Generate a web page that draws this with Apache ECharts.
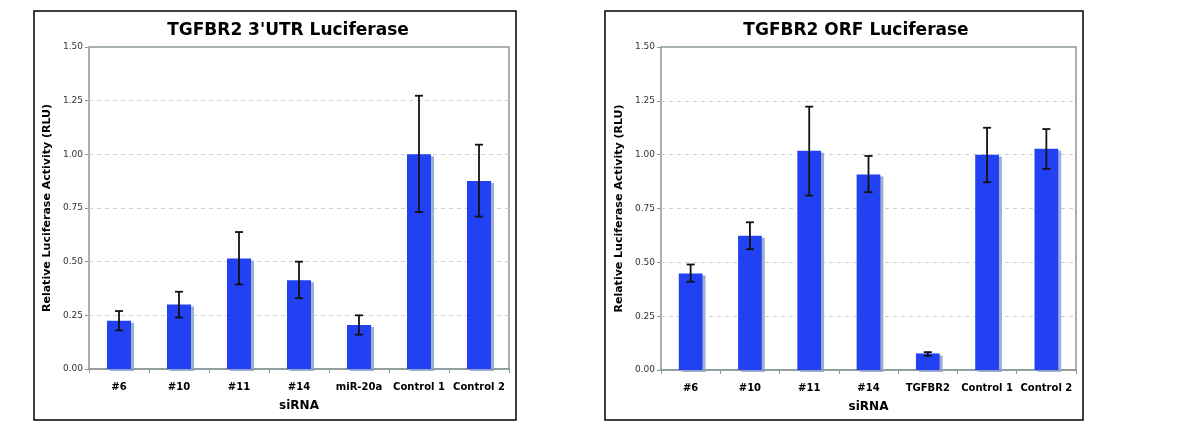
<!DOCTYPE html>
<html><head><meta charset="utf-8">
<script src="https://cdn.jsdelivr.net/npm/echarts@6/dist/echarts.min.js"></script>
<style>html,body{margin:0;padding:0;background:#fff}#c{width:1200px;height:432px}</style>
</head><body><div id="c"></div>
<script>
const titleL = "TGFBR2 3'UTR Luciferase";
const titleR = "TGFBR2 ORF Luciferase";
const catsL = ['#6', '#10', '#11', '#14', 'miR-20a', 'Control 1', 'Control 2'];
const catsR = ['#6', '#10', '#11', '#14', 'TGFBR2', 'Control 1', 'Control 2'];
const valsL = [0.225, 0.30, 0.515, 0.413, 0.205, 1.00, 0.876];
const errHiL = [0.27, 0.36, 0.638, 0.50, 0.25, 1.273, 1.045];
const errLoL = [0.18, 0.24, 0.394, 0.33, 0.16, 0.731, 0.71];
const valsR = [0.448, 0.623, 1.018, 0.908, 0.077, 1.00, 1.028];
const errHiR = [0.49, 0.686, 1.223, 0.994, 0.083, 1.125, 1.119];
const errLoR = [0.41, 0.561, 0.81, 0.826, 0.066, 0.872, 0.934];
const yTicks = [0, 0.25, 0.5, 0.75, 1.0, 1.25, 1.5];
const xName = 'siRNA';
const yName = 'Relative Luciferase Activity (RLU)';

const FONT = '"DejaVu Sans", Verdana, sans-serif';
const chart = echarts.init(document.getElementById('c'), null, {renderer: 'canvas'});

function xAxis(cats, gi) {
  return {
    type: 'category', gridIndex: gi, data: cats,
    axisLine: {show: true, lineStyle: {color: '#8a9898', width: 1.5}},
    axisTick: {show: true, length: 4, interval: 0, lineStyle: {color: '#8a9898'}},
    axisLabel: {color: '#000', fontFamily: FONT, fontWeight: 'bold', fontSize: 10, margin: 13, interval: 0},
    name: xName, nameLocation: 'middle', nameGap: 31,
    nameTextStyle: {color: '#000', fontFamily: FONT, fontWeight: 'bold', fontSize: 12}
  };
}
function yAxis(gi) {
  return {
    type: 'value', gridIndex: gi, min: yTicks[0], max: yTicks[yTicks.length - 1], interval: yTicks[1] - yTicks[0],
    axisLine: {show: false},
    axisTick: {show: true, length: 4, lineStyle: {color: '#8a9898'}},
    axisLabel: {color: '#333', fontFamily: FONT, fontSize: 9, margin: 6,
      formatter: v => v.toFixed(2)},
    splitLine: {show: true, showMinLine: false, showMaxLine: false, lineStyle: {color: '#d0d0d0', type: [4, 4], width: 1}},
    name: yName, nameLocation: 'middle', nameGap: 36,
    nameTextStyle: {color: '#000', fontFamily: FONT, fontWeight: 'bold', fontSize: 11}
  };
}
function errSeries(hi, lo, gi) {
  return {
    type: 'custom', xAxisIndex: gi, yAxisIndex: gi, z: 5,
    data: hi.map((h, i) => [i, h, lo[i]]),
    renderItem: function (params, api) {
      const x = api.value(0);
      const top = api.coord([x, api.value(1)]);
      const bot = api.coord([x, api.value(2)]);
      const hw = 4;
      const st = {stroke: '#111', lineWidth: 1.8};
      return {type: 'group', children: [
        {type: 'line', shape: {x1: top[0], y1: top[1], x2: bot[0], y2: bot[1]}, style: st},
        {type: 'line', shape: {x1: top[0] - hw, y1: top[1], x2: top[0] + hw, y2: top[1]}, style: st},
        {type: 'line', shape: {x1: bot[0] - hw, y1: bot[1], x2: bot[0] + hw, y2: bot[1]}, style: st}
      ]};
    }
  };
}
function barSeries(vals, gi) {
  return {
    type: 'bar', xAxisIndex: gi, yAxisIndex: gi, data: vals, barWidth: '40%',
    itemStyle: {color: '#2141f2', shadowColor: 'rgba(140,160,205,0.85)', shadowOffsetX: 3, shadowOffsetY: 2, shadowBlur: 0}
  };
}

chart.setOption({
  animation: false,
  backgroundColor: '#fff',
  title: [
    {text: titleL, left: 283, top: 17, textAlign: 'center',
      textStyle: {fontFamily: FONT, fontWeight: 'bold', fontSize: 17, color: '#000'}},
    {text: titleR, left: 851, top: 17, textAlign: 'center',
      textStyle: {fontFamily: FONT, fontWeight: 'bold', fontSize: 17, color: '#000'}}
  ],
  grid: [
    {left: 89, top: 47, width: 420, height: 322, show: true, borderColor: '#8a9898', borderWidth: 1.5, backgroundColor: 'transparent'},
    {left: 661, top: 47, width: 415, height: 323, show: true, borderColor: '#8a9898', borderWidth: 1.5, backgroundColor: 'transparent'}
  ],
  xAxis: [xAxis(catsL, 0), xAxis(catsR, 1)],
  yAxis: [yAxis(0), yAxis(1)],
  series: [barSeries(valsL, 0), errSeries(errHiL, errLoL, 0), barSeries(valsR, 1), errSeries(errHiR, errLoR, 1)],
  graphic: [
    {type: 'rect', shape: {x: 34, y: 11, width: 482, height: 409}, style: {fill: null, stroke: '#000', lineWidth: 1.5}},
    {type: 'rect', shape: {x: 605, y: 11, width: 478, height: 409}, style: {fill: null, stroke: '#000', lineWidth: 1.5}}
  ]
});
</script>
</body></html>
